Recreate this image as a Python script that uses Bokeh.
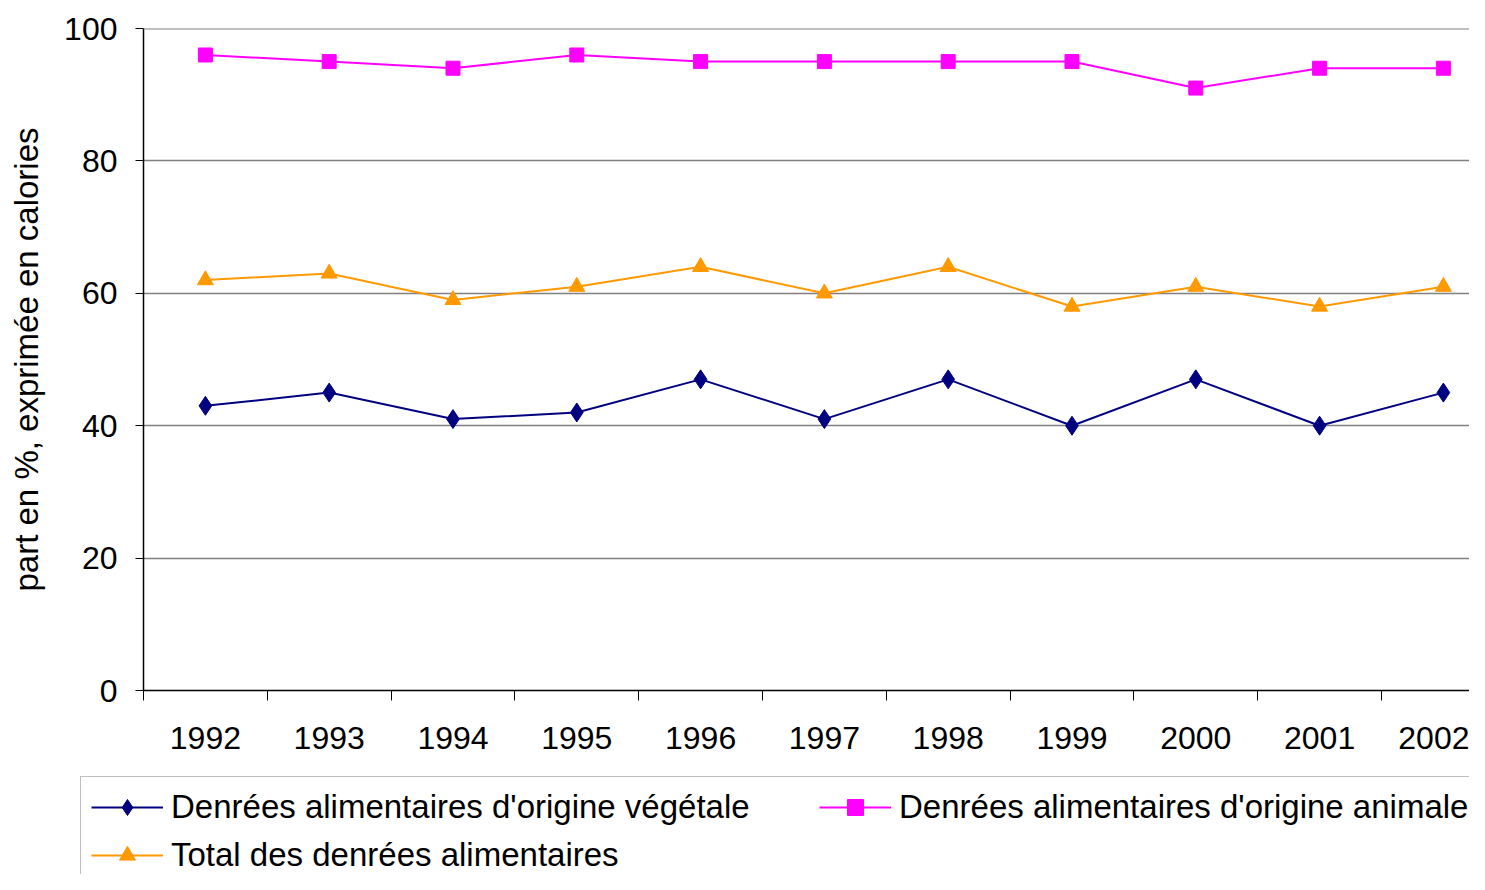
from bokeh.plotting import figure
from bokeh.models import Range1d, FixedTicker, Legend, Span
from bokeh.layouts import column
from bokeh.embed import file_html
from bokeh.resources import INLINE

years = [1992, 1993, 1994, 1995, 1996, 1997, 1998, 1999, 2000, 2001, 2002]
vegetale = [43, 45, 41, 42, 47, 41, 47, 40, 47, 40, 45]
animale = [96, 95, 94, 96, 95, 95, 95, 95, 91, 94, 94]
total = [62, 63, 59, 61, 64, 60, 64, 58, 61, 58, 61]
y_ticks = [0, 20, 40, 60, 80, 100]
label_veg = "Denrées alimentaires d'origine végétale"
label_ani = "Denrées alimentaires d'origine animale"
label_tot = "Total des denrées alimentaires"
y_label = "part en %, exprimée en calories"

FONT = "Liberation Sans"
C_VEG, C_ANI, C_TOT = "#000080", "#FF00FF", "#FF9900"

W = 1469
H1 = 770
H2 = 104

p = figure(width=W, height=H1, output_backend="svg", toolbar_location=None,
           x_range=Range1d(1991.5, 2002.211), y_range=Range1d(0, 100),
           min_border_left=143, min_border_right=0, min_border_top=28,
           min_border_bottom=80)
p.outline_line_color = None
p.background_fill_color = "white"
p.border_fill_color = "white"

p.add_layout(Span(location=100, dimension="width", line_color="#808080", line_width=2))

p.line(years, vegetale, line_color=C_VEG, line_width=2)
p.scatter(years, vegetale, marker="diamond", size=19, fill_color=C_VEG, line_color=C_VEG)
p.line(years, animale, line_color=C_ANI, line_width=2)
p.scatter(years, animale, marker="square", size=14, fill_color=C_ANI, line_color=C_ANI)
p.line(years, total, line_color=C_TOT, line_width=2)
p.scatter(years, total, marker="triangle", size=16, fill_color=C_TOT, line_color=C_TOT)

# x axis
p.xaxis.ticker = FixedTicker(ticks=years, minor_ticks=[y - 0.5 for y in years] + [years[-1] + 0.5])
p.xaxis.major_tick_out = 0
p.xaxis.major_tick_in = 0
p.xaxis.minor_tick_out = 10
p.xaxis.minor_tick_in = 0
p.xaxis.minor_tick_line_color = "black"
p.xaxis.major_label_standoff = 26
p.xaxis.major_label_text_font = FONT
p.xaxis.major_label_text_font_size = "32px"
p.xaxis.major_label_text_color = "black"
p.xaxis.axis_line_color = "black"
p.xaxis.axis_line_width = 1.5
p.xgrid.grid_line_color = None

# y axis
p.yaxis.ticker = FixedTicker(ticks=y_ticks)
p.yaxis.minor_tick_line_color = None
p.yaxis.major_tick_out = 8
p.yaxis.major_tick_in = 0
p.yaxis.major_tick_line_color = "black"
p.yaxis.major_label_standoff = 18
p.yaxis.major_label_text_font = FONT
p.yaxis.major_label_text_font_size = "32px"
p.yaxis.major_label_text_color = "black"
p.yaxis.axis_line_color = "black"
p.yaxis.axis_line_width = 1.5
p.yaxis.axis_label = y_label
p.yaxis.axis_label_text_font = FONT
p.yaxis.axis_label_text_font_size = "33px"
p.yaxis.axis_label_text_font_style = "normal"
p.yaxis.axis_label_text_color = "black"
p.yaxis.axis_label_standoff = 16
p.ygrid.grid_line_color = "#808080"
p.ygrid.grid_line_width = 1.5

# legend panel (separate figure below the chart); its renderers lie outside its view
q = figure(width=W, height=H2, output_backend="svg", toolbar_location=None,
           x_range=Range1d(0, 1), y_range=Range1d(0, 1),
           x_axis_location=None, y_axis_location=None,
           min_border_left=0, min_border_right=0, min_border_top=0, min_border_bottom=0)
q.frame_align = False
q.outline_line_color = None
q.grid.grid_line_color = None
q.background_fill_color = "white"
q.border_fill_color = "white"

l1 = q.line(years, vegetale, line_color=C_VEG, line_width=2)
m1 = q.scatter(years, vegetale, marker="diamond", size=19, fill_color=C_VEG, line_color=C_VEG)
l2 = q.line(years, animale, line_color=C_ANI, line_width=2)
m2 = q.scatter(years, animale, marker="square", size=14, fill_color=C_ANI, line_color=C_ANI)
l3 = q.line(years, total, line_color=C_TOT, line_width=2)
m3 = q.scatter(years, total, marker="triangle", size=16, fill_color=C_TOT, line_color=C_TOT)

legend = Legend(items=[(label_veg, [l1, m1]), (label_ani, [l2, m2]), (label_tot, [l3, m3])],
                location=(80, -12), orientation="horizontal", ncols=2,
                glyph_width=72, glyph_height=40, label_height=40, label_width=640,
                label_standoff=8, spacing=8, padding=10, margin=0,
                label_text_font=FONT, label_text_font_size="33px", label_text_color="black",
                border_line_color="#808080", border_line_width=1.5,
                background_fill_color="white", background_fill_alpha=1.0)
q.add_layout(legend, "center")

layout = column(p, q, spacing=0)
open("out.html", "w").write(file_html(layout, INLINE))
